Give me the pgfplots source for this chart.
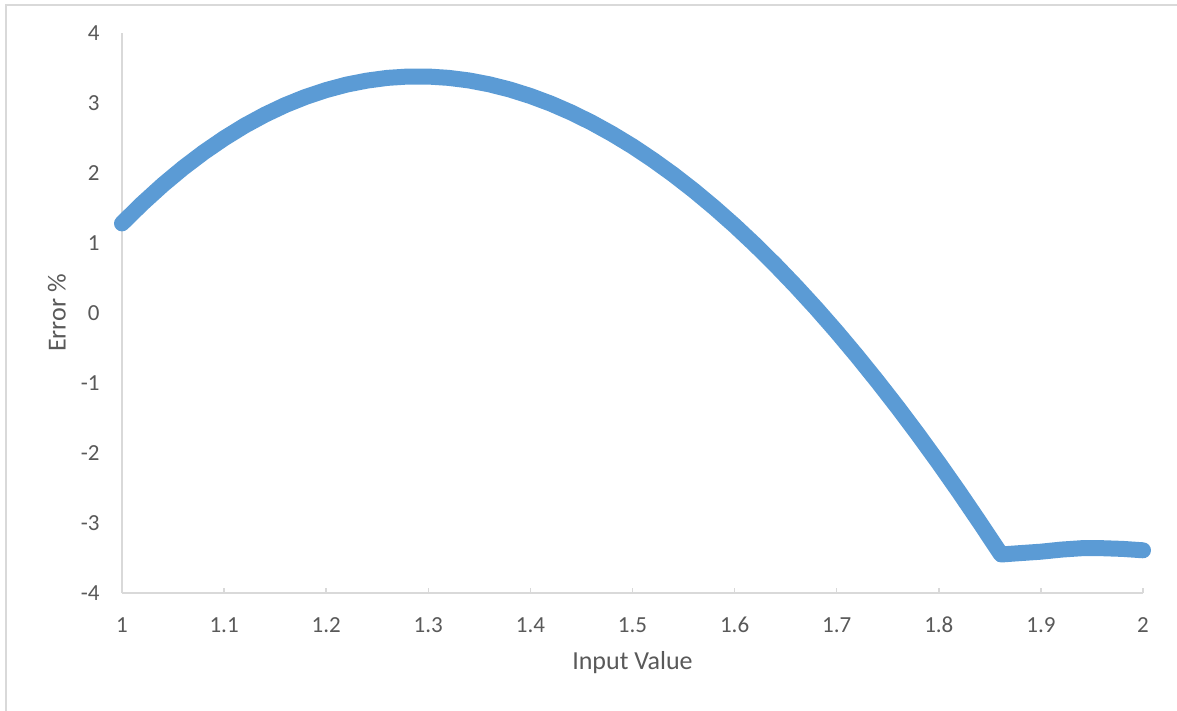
\documentclass[border=0pt]{standalone}
\usepackage{fontspec}
\setmainfont{Carlito}
\usepackage{pgfplots}
\pgfplotsset{compat=1.18}
\definecolor{excelblue}{HTML}{5B9BD5}
\definecolor{axisgray}{HTML}{D9D9D9}
\definecolor{labelgray}{HTML}{595959}
\begin{document}
\begin{tikzpicture}
\path[use as bounding box] (0,0) rectangle (588.5pt,355.5pt);
\draw[axisgray, line width=1pt] (2.75pt,0) -- (2.75pt,352.75pt) -- (588.5pt,352.75pt);
\begin{axis}[
  at={(61pt,59pt)}, anchor=south west,
  scale only axis, width=510.5pt, height=280pt,
  xmin=1, xmax=2, ymin=-4, ymax=4,
  clip=false,
  axis x line*=bottom, axis y line*=left,
  axis line style={axisgray, line width=0.75pt, -},
  xtick={1,1.1,1.2,1.3,1.4,1.5,1.6,1.7,1.8,1.9,2},
  xticklabels={1,1.1,1.2,1.3,1.4,1.5,1.6,1.7,1.8,1.9,2},
  ytick={-4,-3,-2,-1,0,1,2,3,4},
  yticklabels={-4,-3,-2,-1,0,1,2,3,4},
  tick align=inside,
  major tick length=2.5pt,
  xtick style={axisgray, line width=0.75pt},
  ytick style={draw=none},
  xticklabel style={anchor=center, yshift=-16pt, font=\fontsize{11.5}{13}\selectfont, text=labelgray},
  yticklabel style={anchor=east, inner sep=0pt, xshift=-11pt, font=\fontsize{11.5}{13}\selectfont, text=labelgray},
  xlabel={Input Value},
  ylabel={Error \%},
  xlabel style={at={(axis description cs:0.5,-0.125)}, anchor=center, font=\fontsize{13}{15}\selectfont, text=labelgray},
  ylabel style={at={(axis description cs:-0.0637,0.5)}, anchor=center, font=\fontsize{13}{15}\selectfont, text=labelgray},
]
\addplot[excelblue, line width=8pt, line cap=round, line join=round] table {
x y
1.00 1.280
1.02 1.566
1.04 1.831
1.06 2.074
1.08 2.295
1.10 2.495
1.12 2.675
1.14 2.833
1.16 2.971
1.18 3.088
1.20 3.185
1.22 3.263
1.24 3.320
1.26 3.359
1.28 3.378
1.30 3.378
1.32 3.359
1.34 3.322
1.36 3.266
1.38 3.192
1.40 3.100
1.42 2.991
1.44 2.864
1.46 2.720
1.48 2.559
1.50 2.382
1.52 2.187
1.54 1.977
1.56 1.750
1.58 1.507
1.60 1.249
1.62 0.975
1.64 0.686
1.66 0.382
1.68 0.064
1.70 -0.269
1.72 -0.617
1.74 -0.979
1.76 -1.354
1.78 -1.743
1.80 -2.145
1.82 -2.561
1.84 -2.990
1.861 -3.450
1.88 -3.430
1.90 -3.410
1.92 -3.380
1.94 -3.360
1.96 -3.360
1.98 -3.370
2.00 -3.390
};
\end{axis}
\end{tikzpicture}
\end{document}
